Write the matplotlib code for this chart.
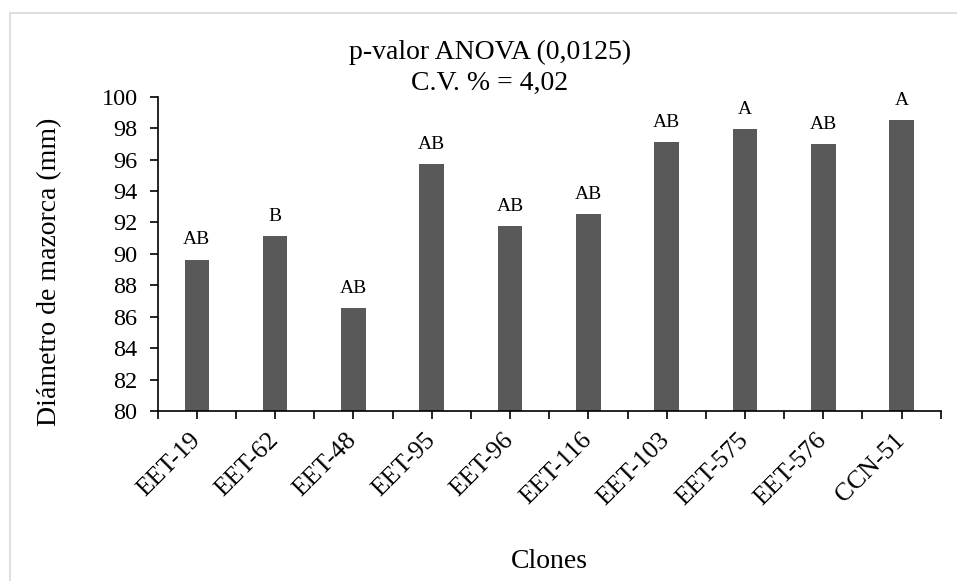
import matplotlib
matplotlib.use("Agg")
import matplotlib.pyplot as plt
from matplotlib.patches import Rectangle
import numpy as np

clones = ["EET-19", "EET-62", "EET-48", "EET-95", "EET-96", "EET-116",
          "EET-103", "EET-575", "EET-576", "CCN-51"]
diametro = [89.64, 91.11, 86.54, 95.69, 91.76, 92.51, 97.13, 97.94, 96.99, 98.52]
letras = ["AB", "B", "AB", "AB", "AB", "AB", "AB", "A", "AB", "A"]
titulo = "p-valor ANOVA (0,0125)\nC.V. % = 4,02"

plt.rcParams['font.family'] = ['Liberation Serif', 'DejaVu Serif']

W, H = 957, 581
fig = plt.figure(figsize=(W / 100, H / 100), dpi=100)
ax = fig.add_axes([157.7 / W, 1 - 411 / H, (940.7 - 157.7) / W, (411 - 96.7) / H])

x = np.arange(len(clones))
ax.bar(x, diametro, width=0.315, color="#595959")
ax.set_ylim(80, 100)
ax.set_xlim(-0.5, len(clones) - 0.5)
ax.set_yticks(np.arange(80, 101, 2))
ax.tick_params(axis='y', labelsize=17.5, length=5.5, width=1.2, direction='out', pad=9)

ax.set_xticks(x)
ax.set_xticklabels(clones, rotation=45, ha='right', va='center', rotation_mode='anchor', fontsize=18.5)
ax.set_xticks(np.arange(-0.5, len(clones), 1), minor=True)
ax.tick_params(axis='x', which='both', length=5.5, width=1.2, direction='out', pad=13)

for s in ['top', 'right']:
    ax.spines[s].set_visible(False)
for s in ['left', 'bottom']:
    ax.spines[s].set_linewidth(1.2)

for xi, v, l in zip(x, diametro, letras):
    ax.annotate(l, (xi, v), xytext=(0, 11), textcoords='offset points',
                ha='center', va='baseline', fontsize=14)

ax.set_ylabel("Diámetro de mazorca (mm)", fontsize=20)
ax.yaxis.set_label_coords((50 - 157.7) / (940.7 - 157.7), (411 - 272) / (411 - 96.7))
ax.set_xlabel("Clones", fontsize=20)
ax.xaxis.set_label_coords(0.5, -(561 - 411) / (411 - 96.7))
ax.xaxis.label.set_va('center')
ax.yaxis.label.set_va('center')

fig.text(490 / W, 1 - 68 / H, titulo, ha='center', va='center', fontsize=20,
         linespacing=1.28)

fig.patches.append(Rectangle((10 / W, -0.1), 2, 1 - 13 / H + 0.1, transform=fig.transFigure,
                             fill=False, edgecolor='#d9d9d9', linewidth=1.2))

fig.savefig("out.png", dpi=100)
